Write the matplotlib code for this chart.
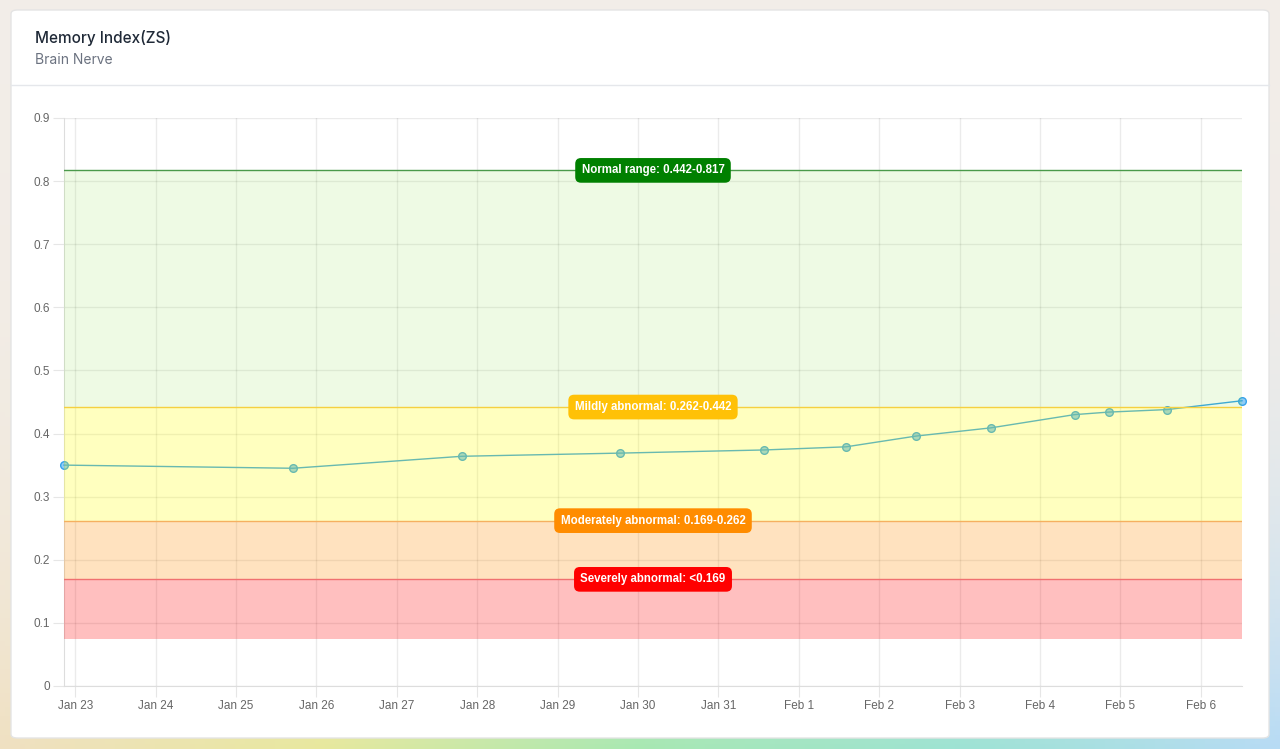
import numpy as np
import pandas as pd
import matplotlib
matplotlib.use("Agg")
import matplotlib.pyplot as plt
import matplotlib.dates as mdates
from matplotlib.patches import FancyBboxPatch

# data
dates = pd.to_datetime([
    "2024-01-22 20:40", "2024-01-25 17:00", "2024-01-27 19:30", "2024-01-29 18:30",
    "2024-01-31 13:40", "2024-02-01 14:10", "2024-02-02 11:00", "2024-02-03 09:20",
    "2024-02-04 10:20", "2024-02-04 20:30", "2024-02-05 14:00", "2024-02-06 12:20",
])
values = [0.350, 0.345, 0.364, 0.369, 0.374, 0.379, 0.396, 0.409, 0.430, 0.434, 0.438, 0.452]

band_edges = [0.075, 0.169, 0.262, 0.442, 0.817]
band_fill = [(1.0, 0.0, 0.0, 0.25), (1.0, 0.55, 0.0, 0.25),
             (1.0, 1.0, 0.0, 0.25), (0.48, 0.87, 0.15, 0.12)]
band_line = ["#f07070", "#f5b060", "#f5d040", "#4a9a4a"]
band_labels = ["Severely abnormal: <0.169", "Moderately abnormal: 0.169-0.262",
               "Mildly abnormal: 0.262-0.442", "Normal range: 0.442-0.817"]
label_colors = ["#ff0000", "#ff8c00", "#ffc107", "#008000"]
label_at = [0.169, 0.262, 0.442, 0.817]

W, H = 1280, 749
fig = plt.figure(figsize=(W / 100, H / 100), dpi=100)

# pastel page background
bg = fig.add_axes([0, 0, 1, 1], zorder=-10)
bg.axis("off")
xs = np.linspace(0, 1, 256)
ys = np.linspace(0, 1, 160)
X, Y = np.meshgrid(xs, ys)
stops = np.array([[0.94, 0.88, 0.76], [0.91, 0.91, 0.62], [0.66, 0.91, 0.70],
                  [0.62, 0.89, 0.83], [0.72, 0.86, 0.96]])
pos = np.linspace(0, 1, len(stops))
bottom = np.stack([np.interp(xs, pos, stops[:, c]) for c in range(3)], axis=-1)
top = np.array([0.95, 0.93, 0.91])
wt = (Y ** 3)[..., None]
img = bottom[None, :, :] * wt + top * (1 - wt)
bg.imshow(img, extent=[0, 1, 0, 1], origin="upper", aspect="auto")
bg.set_xlim(0, 1)
bg.set_ylim(0, 1)

# white card
card = FancyBboxPatch((11 / W, 1 - 738 / H), 1258 / W, 728 / H,
                      boxstyle="round,pad=0,rounding_size=0.005",
                      transform=fig.transFigure, facecolor="white",
                      edgecolor="#e4e4e4", linewidth=1, zorder=-5)
fig.patches.append(card)
fig.add_artist(plt.Line2D([11 / W, 1269 / W], [1 - 85 / H, 1 - 85 / H],
                          transform=fig.transFigure, color="#e5e7eb", linewidth=1))
fig.text(35 / W, 1 - 38 / H, "Memory Index(ZS)", fontsize=11, family="Inter",
         fontweight="medium", color="#1f2937", va="center")
fig.text(35 / W, 1 - 59.5 / H, "Brain Nerve", fontsize=10, family="Inter",
         color="#6b7280", va="center")

ax = fig.add_axes([64 / W, 1 - 686 / H, (1242 - 64) / W, (686 - 118) / H])
ax.set_facecolor("none")

# series first, then translucent bands laid over it
ax.plot(dates, values, color="#36a2eb", linewidth=1, zorder=3, clip_on=False)
ax.plot(dates, values, linestyle="none", marker="o", markersize=5.5,
        markerfacecolor=(0.21, 0.64, 0.92, 0.55), markeredgecolor="#36a2eb",
        markeredgewidth=1, zorder=3, clip_on=False)

for i in range(4):
    ax.axhspan(band_edges[i], band_edges[i + 1], color=band_fill[i], zorder=4, lw=0)
    ax.axhline(band_edges[i + 1], color=band_line[i], linewidth=1, zorder=5)

xmid = dates[0] + (dates[-1] - dates[0]) / 2
for lab, c, yv in zip(band_labels, label_colors, label_at):
    ax.text(xmid, yv, lab, ha="center", va="center", fontsize=8.3, fontweight="bold",
            family="Liberation Sans", color="white", zorder=6,
            bbox=dict(boxstyle="round,pad=0.55,rounding_size=0.5", facecolor=c,
                      edgecolor="none"))

ax.set_xlim(dates[0], dates[-1])
ax.set_ylim(0, 0.9)
ax.set_yticks(np.arange(0, 0.91, 0.1))
ax.set_yticklabels(["0"] + [f"{v:.1f}" for v in np.arange(0.1, 0.91, 0.1)])
ax.xaxis.set_major_locator(mdates.DayLocator())
ax.xaxis.set_major_formatter(mdates.DateFormatter("%b %-d"))

ax.grid(True, color="#000000", alpha=0.08, linewidth=1, zorder=2)
for s in ["top", "right"]:
    ax.spines[s].set_visible(False)
for s in ["left", "bottom"]:
    ax.spines[s].set_color("#dddddd")
ax.tick_params(axis="both", length=8, color="#e6e6e6", labelcolor="#666666",
               labelsize=8.5, pad=2)
for t in ax.get_xticklabels() + ax.get_yticklabels():
    t.set_family("Liberation Sans")

fig.savefig("out.png", dpi=100)
